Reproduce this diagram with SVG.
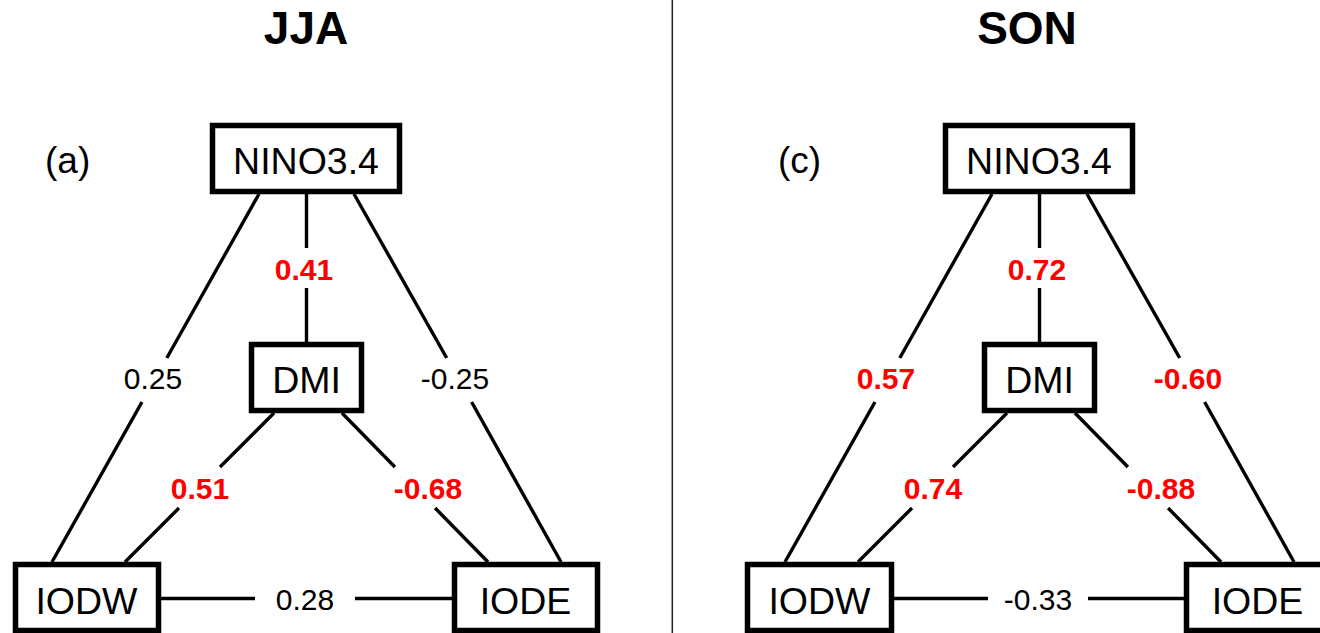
<svg xmlns="http://www.w3.org/2000/svg" width="1320" height="633" viewBox="0 0 1320 633">
<style>
  text { font-family: "Liberation Sans", Arial, sans-serif; text-anchor: middle; }
  .title { font-size: 46px; font-weight: bold; fill: #000; }
  .panel { font-size: 37px; fill: #000; text-anchor: start; }
  .box rect { fill: #fff; stroke: #000; stroke-width: 5.5; }
  .box text { font-size: 37.5px; fill: #000; }
  .conn line { stroke: #000; stroke-width: 3.4; stroke-linecap: butt; }
  .lbl { font-size: 30px; fill: #000; }
  .sig { font-size: 30px; font-weight: bold; fill: #ff0000; }
</style>
<rect x="0" y="0" width="1320" height="633" fill="#fff"/>
<line x1="672.3" y1="0" x2="672.3" y2="633" stroke="#222" stroke-width="1.5"/>
<text class="title" x="306" y="44">JJA</text>
<text class="title" x="1027" y="44">SON</text>

<g id="panel-a">
  <text class="panel" x="45" y="173">(a)</text>
  <g id="connectors-a" class="conn">
    <line x1="259" y1="194" x2="166.8" y2="358"/>
    <line x1="142" y1="402" x2="52" y2="562"/>
    <line x1="354" y1="194" x2="446.7" y2="358"/>
    <line x1="471.6" y1="402" x2="561" y2="562"/>
    <line x1="306.5" y1="194" x2="306.5" y2="248"/>
    <line x1="306.5" y1="288" x2="306.5" y2="342"/>
    <line x1="274" y1="413" x2="220" y2="467"/>
    <line x1="179" y1="508" x2="125" y2="562"/>
    <line x1="342" y1="413" x2="394.9" y2="467"/>
    <line x1="435.1" y1="508" x2="488" y2="562"/>
    <line x1="161" y1="598.5" x2="255" y2="598.5"/>
    <line x1="355" y1="598.5" x2="452" y2="598.5"/>
    <text class="sig" x="304" y="280">0.41</text>
    <text class="lbl" x="153" y="389">0.25</text>
    <text class="lbl" x="455" y="389">-0.25</text>
    <text class="sig" x="200" y="499">0.51</text>
    <text class="sig" x="428" y="499">-0.68</text>
    <text class="lbl" x="305" y="610">0.28</text>
  </g>
  <g id="a-nino34" class="box"><rect x="212.5" y="125.5" width="187" height="66"/><text x="306" y="174">NINO3.4</text></g>
  <g id="a-dmi" class="box"><rect x="251.5" y="344.5" width="110" height="66"/><text x="306.5" y="393">DMI</text></g>
  <g id="a-iodw" class="box"><rect x="15.5" y="564.5" width="143" height="66"/><text x="86.5" y="614">IODW</text></g>
  <g id="a-iode" class="box"><rect x="454.5" y="564.5" width="143" height="66"/><text x="525.5" y="614">IODE</text></g>
</g>

<g id="panel-c" transform="translate(733,0)">
  <text class="panel" x="45" y="173">(c)</text>
  <g id="connectors-c" class="conn">
    <line x1="259" y1="194" x2="166.8" y2="358"/>
    <line x1="142" y1="402" x2="52" y2="562"/>
    <line x1="354" y1="194" x2="446.7" y2="358"/>
    <line x1="471.6" y1="402" x2="561" y2="562"/>
    <line x1="306.5" y1="194" x2="306.5" y2="248"/>
    <line x1="306.5" y1="288" x2="306.5" y2="342"/>
    <line x1="274" y1="413" x2="220" y2="467"/>
    <line x1="179" y1="508" x2="125" y2="562"/>
    <line x1="342" y1="413" x2="394.9" y2="467"/>
    <line x1="435.1" y1="508" x2="488" y2="562"/>
    <line x1="161" y1="598.5" x2="255" y2="598.5"/>
    <line x1="355" y1="598.5" x2="452" y2="598.5"/>
    <text class="sig" x="304" y="280">0.72</text>
    <text class="sig" x="153" y="389">0.57</text>
    <text class="sig" x="455" y="389">-0.60</text>
    <text class="sig" x="200" y="499">0.74</text>
    <text class="sig" x="428" y="499">-0.88</text>
    <text class="lbl" x="305" y="610">-0.33</text>
  </g>
  <g id="c-nino34" class="box"><rect x="212.5" y="125.5" width="187" height="66"/><text x="306" y="174">NINO3.4</text></g>
  <g id="c-dmi" class="box"><rect x="251.5" y="344.5" width="110" height="66"/><text x="306.5" y="393">DMI</text></g>
  <g id="c-iodw" class="box"><rect x="14.5" y="564.5" width="144" height="66"/><text x="86.5" y="614">IODW</text></g>
  <g id="c-iode" class="box"><rect x="453.5" y="564.5" width="143" height="66"/><text x="524.5" y="614">IODE</text></g>
</g>
</svg>
